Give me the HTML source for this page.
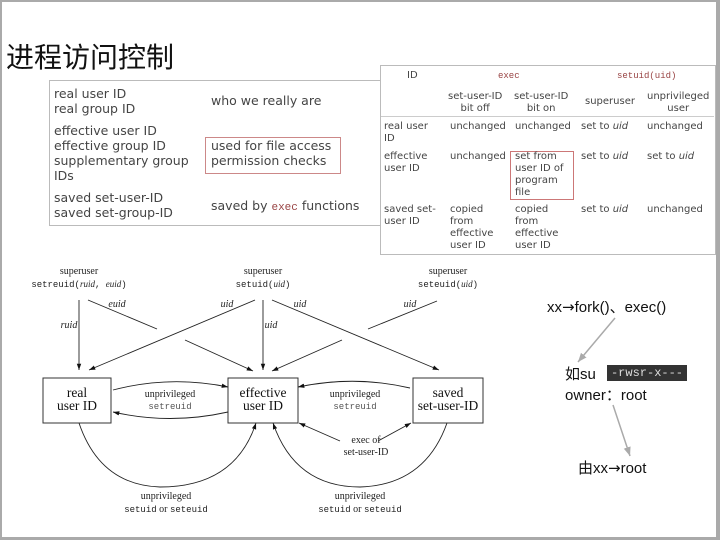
<!DOCTYPE html>
<html><head><meta charset="utf-8"><style>
body{margin:0;width:720px;height:540px;overflow:hidden;background:#fff;position:relative;font-family:"Liberation Sans","Noto Sans CJK SC",sans-serif}
.fr{position:absolute;left:0;top:0;width:714px;height:535px;border:2px solid #aaa;border-right-width:4px;border-bottom-width:3px}
.t{position:absolute;white-space:nowrap}
.v{font-family:"DejaVu Sans",sans-serif;color:#444}
</style></head><body>
<div class="fr"></div>
<div class="t" style="left:6px;top:36px;font-size:28px;color:#111">进程访问控制</div>

<div style="position:absolute;left:49px;top:80px;width:330px;height:144px;border:1px solid #bbb"></div>
<div class="t v" style="left:54px;top:86px;font-size:12.5px;line-height:15px">real user ID<br>real group ID</div>
<div class="t v" style="left:211px;top:93px;font-size:12.5px">who we really are</div>
<div class="t v" style="left:54px;top:123px;font-size:12.5px;line-height:15px">effective user ID<br>effective group ID<br>supplementary group<br>IDs</div>
<div style="position:absolute;left:205px;top:137px;width:134px;height:35px;border:1px solid #c88"></div>
<div class="t v" style="left:211px;top:138px;font-size:12.5px;line-height:15px">used for file access<br>permission checks</div>
<div class="t v" style="left:54px;top:190px;font-size:12.5px;line-height:15px">saved set-user-ID<br>saved set-group-ID</div>
<div class="t v" style="left:211px;top:198px;font-size:12.5px">saved by <span style="font-family:'Liberation Mono',monospace;color:#944;font-size:11px">exec</span> functions</div>

<div style="position:absolute;left:380px;top:65px;width:334px;height:188px;border:1px solid #bbb;background:#fff"></div>
<div style="position:absolute;left:381px;top:116px;width:333px;border-top:1px solid #ccc"></div>
<div class="t v" style="left:407px;top:70px;font-size:10px">ID</div>
<div class="t" style="left:498px;top:71px;font-size:9px;font-family:'Liberation Mono',monospace;color:#944">exec</div>
<div class="t" style="left:617px;top:71px;font-size:9px;font-family:'Liberation Mono',monospace;color:#944">setuid(uid)</div>
<div class="t v" style="left:448px;top:91px;font-size:10px;line-height:12px;text-align:center">set-user-ID<br>bit off</div>
<div class="t v" style="left:514px;top:91px;font-size:10px;line-height:12px;text-align:center">set-user-ID<br>bit on</div>
<div class="t v" style="left:585px;top:96px;font-size:10px">superuser</div>
<div class="t v" style="left:647px;top:91px;font-size:10px;line-height:12px;text-align:center">unprivileged<br>user</div>
<div class="t v" style="left:384px;top:121px;font-size:10px;line-height:12px">real user<br>ID</div>
<div class="t v" style="left:450px;top:121px;font-size:10px">unchanged</div>
<div class="t v" style="left:515px;top:121px;font-size:10px">unchanged</div>
<div class="t v" style="left:581px;top:121px;font-size:10px">set to <i>uid</i></div>
<div class="t v" style="left:647px;top:121px;font-size:10px">unchanged</div>
<div class="t v" style="left:384px;top:151px;font-size:10px;line-height:12px">effective<br>user ID</div>
<div class="t v" style="left:450px;top:151px;font-size:10px">unchanged</div>
<div style="position:absolute;left:510px;top:151px;width:62px;height:47px;border:1px solid #c77"></div>
<div class="t v" style="left:515px;top:151px;font-size:10px;line-height:12px">set from<br>user ID of<br>program<br>file</div>
<div class="t v" style="left:581px;top:151px;font-size:10px">set to <i>uid</i></div>
<div class="t v" style="left:647px;top:151px;font-size:10px">set to <i>uid</i></div>
<div class="t v" style="left:384px;top:204px;font-size:10px;line-height:12px">saved set-<br>user ID</div>
<div class="t v" style="left:450px;top:204px;font-size:10px;line-height:12px">copied<br>from<br>effective<br>user ID</div>
<div class="t v" style="left:515px;top:204px;font-size:10px;line-height:12px">copied<br>from<br>effective<br>user ID</div>
<div class="t v" style="left:581px;top:204px;font-size:10px">set to <i>uid</i></div>
<div class="t v" style="left:647px;top:204px;font-size:10px">unchanged</div>

<svg style="position:absolute;left:0;top:0" width="720" height="540" font-family="Liberation Serif,serif" font-size="10">
<defs><marker id="a" viewBox="0 0 10 10" refX="10" refY="5" markerWidth="7" markerHeight="7" orient="auto"><path d="M0,1.5L10,5L0,8.5z" fill="#111"/></marker>
<marker id="g" viewBox="0 0 10 10" refX="10" refY="5" markerWidth="6" markerHeight="6" orient="auto"><path d="M0,1L10,5L0,9z" fill="#aaa"/></marker></defs>
<g fill="#222" text-anchor="middle">
<text x="79" y="274">superuser</text><text x="79" y="287" font-family="Liberation Mono,monospace" font-size="9">setreuid(<tspan font-style="italic" font-family="Liberation Serif,serif">ruid</tspan>, <tspan font-style="italic" font-family="Liberation Serif,serif">euid</tspan>)</text>
<text x="263" y="274">superuser</text><text x="263" y="287" font-family="Liberation Mono,monospace" font-size="9">setuid(<tspan font-style="italic" font-family="Liberation Serif,serif">uid</tspan>)</text>
<text x="448" y="274">superuser</text><text x="448" y="287" font-family="Liberation Mono,monospace" font-size="9">seteuid(<tspan font-style="italic" font-family="Liberation Serif,serif">uid</tspan>)</text>
<g font-style="italic"><text x="69" y="328">ruid</text><text x="117" y="307">euid</text><text x="227" y="307">uid</text><text x="271" y="328">uid</text><text x="300" y="307">uid</text><text x="410" y="307">uid</text></g>
<text x="170" y="397">unprivileged</text><text x="170" y="409" font-family="Liberation Mono,monospace" font-size="9" fill="#555">setreuid</text>
<text x="355" y="397">unprivileged</text><text x="355" y="409" font-family="Liberation Mono,monospace" font-size="9" fill="#555">setreuid</text>
<text x="366" y="443">exec of</text><text x="366" y="455">set-user-ID</text>
<text x="166" y="499">unprivileged</text><text x="166" y="512"><tspan font-family="Liberation Mono,monospace" font-size="9">setuid</tspan> or <tspan font-family="Liberation Mono,monospace" font-size="9">seteuid</tspan></text>
<text x="360" y="499">unprivileged</text><text x="360" y="512"><tspan font-family="Liberation Mono,monospace" font-size="9">setuid</tspan> or <tspan font-family="Liberation Mono,monospace" font-size="9">seteuid</tspan></text>
</g>
<g stroke="#333" fill="#fff" stroke-width="1"><rect x="43" y="378" width="68" height="45"/><rect x="228" y="378" width="70" height="45"/><rect x="413" y="378" width="70" height="45"/></g>
<g font-size="13.5" text-anchor="middle" fill="#111"><text x="77" y="397">real</text><text x="77" y="410">user ID</text><text x="263" y="397">effective</text><text x="263" y="410">user ID</text><text x="448" y="397">saved</text><text x="448" y="410">set-user-ID</text></g>
<g stroke="#222" fill="none" stroke-width="0.9" marker-end="url(#a)">
<line x1="79" y1="300" x2="79" y2="370"/>
<line x1="185" y1="340" x2="253" y2="371"/>
<line x1="255" y1="300" x2="89" y2="370"/>
<line x1="263" y1="300" x2="263" y2="370"/>
<line x1="272" y1="300" x2="439" y2="370"/>
<line x1="342" y1="340" x2="272" y2="371"/>
<path d="M113,390 Q170,375 228,387"/>
<path d="M228,412 Q170,425 113,412"/>
<path d="M410,388 Q355,375 298,387"/>
<line x1="340" y1="441" x2="299" y2="423"/>
<line x1="378" y1="441" x2="411" y2="423"/>
<path d="M79,423 Q100,485 160,487 Q235,487 256,423"/>
<path d="M447,423 Q425,485 360,487 Q295,487 273,423"/>
</g>
<g stroke="#222" stroke-width="0.9"><line x1="88" y1="300" x2="157" y2="329"/><line x1="437" y1="301" x2="368" y2="329"/></g>
<g stroke="#aaa" stroke-width="1.5" marker-end="url(#g)"><line x1="615" y1="318" x2="578" y2="362"/><line x1="613" y1="405" x2="630" y2="456"/></g>
</svg>
<div class="t" style="left:547px;top:296px;font-size:15px;color:#111">xx<span style="font-family:'DejaVu Sans',sans-serif">→</span>fork()、exec()</div>
<div class="t" style="left:565px;top:363px;font-size:15px;color:#111">如su</div>
<div class="t" style="left:607px;top:365px;width:80px;height:16px;background:#333;color:#ddd;font-family:'Liberation Mono',monospace;font-size:12px;line-height:16px;text-align:center">-rwsr-x---</div>
<div class="t" style="left:565px;top:384px;font-size:15px;color:#111">owner：root</div>
<div class="t" style="left:578px;top:457px;font-size:15px;color:#111">由xx<span style="font-family:'DejaVu Sans',sans-serif">→</span>root</div>
</body></html>
